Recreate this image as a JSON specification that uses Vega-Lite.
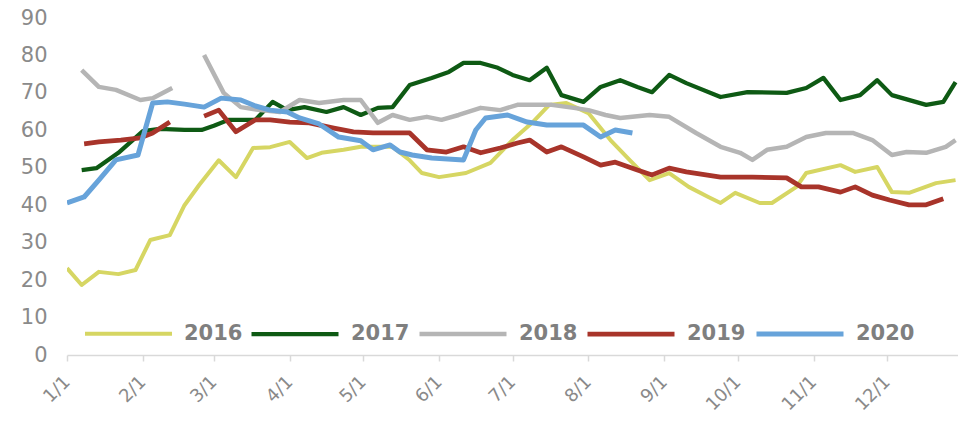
{
  "$schema": "https://vega.github.io/schema/vega-lite/v6.json",
  "width": 891,
  "height": 337,
  "autosize": {"type": "none"},
  "padding": {"left": 67, "top": 18, "right": 0, "bottom": 66},
  "background": "white",
  "config": {"view": {"stroke": null}, "font": "DejaVu Sans"},
  "data": {"values": [
    {"year":"2016","seg":"2016","date":"2016-01-01","value":23.2},
    {"year":"2016","seg":"2016","date":"2016-01-07","value":18.7},
    {"year":"2016","seg":"2016","date":"2016-01-14","value":22.2},
    {"year":"2016","seg":"2016","date":"2016-01-22","value":21.6},
    {"year":"2016","seg":"2016","date":"2016-01-29","value":22.7},
    {"year":"2016","seg":"2016","date":"2016-02-04","value":30.7},
    {"year":"2016","seg":"2016","date":"2016-02-12","value":32},
    {"year":"2016","seg":"2016","date":"2016-02-18","value":40},
    {"year":"2016","seg":"2016","date":"2016-02-24","value":45.4},
    {"year":"2016","seg":"2016","date":"2016-03-03","value":52},
    {"year":"2016","seg":"2016","date":"2016-03-10","value":47.5},
    {"year":"2016","seg":"2016","date":"2016-03-17","value":55.3},
    {"year":"2016","seg":"2016","date":"2016-03-24","value":55.5},
    {"year":"2016","seg":"2016","date":"2016-04-01","value":56.9},
    {"year":"2016","seg":"2016","date":"2016-04-08","value":52.6},
    {"year":"2016","seg":"2016","date":"2016-04-14","value":54},
    {"year":"2016","seg":"2016","date":"2016-04-23","value":54.8},
    {"year":"2016","seg":"2016","date":"2016-04-30","value":55.6},
    {"year":"2016","seg":"2016","date":"2016-05-08","value":55.6},
    {"year":"2016","seg":"2016","date":"2016-05-13","value":55.6},
    {"year":"2016","seg":"2016","date":"2016-05-20","value":52},
    {"year":"2016","seg":"2016","date":"2016-05-25","value":48.6},
    {"year":"2016","seg":"2016","date":"2016-06-01","value":47.5},
    {"year":"2016","seg":"2016","date":"2016-06-12","value":48.6},
    {"year":"2016","seg":"2016","date":"2016-06-22","value":51.3},
    {"year":"2016","seg":"2016","date":"2016-07-01","value":57.4},
    {"year":"2016","seg":"2016","date":"2016-07-09","value":62},
    {"year":"2016","seg":"2016","date":"2016-07-16","value":66.8},
    {"year":"2016","seg":"2016","date":"2016-07-23","value":67.3},
    {"year":"2016","seg":"2016","date":"2016-08-01","value":64.6},
    {"year":"2016","seg":"2016","date":"2016-08-10","value":57.4},
    {"year":"2016","seg":"2016","date":"2016-08-18","value":52},
    {"year":"2016","seg":"2016","date":"2016-08-26","value":46.7},
    {"year":"2016","seg":"2016","date":"2016-09-03","value":48.6},
    {"year":"2016","seg":"2016","date":"2016-09-11","value":44.9},
    {"year":"2016","seg":"2016","date":"2016-09-19","value":42.2},
    {"year":"2016","seg":"2016","date":"2016-09-24","value":40.6},
    {"year":"2016","seg":"2016","date":"2016-09-30","value":43.3},
    {"year":"2016","seg":"2016","date":"2016-10-10","value":40.6},
    {"year":"2016","seg":"2016","date":"2016-10-15","value":40.6},
    {"year":"2016","seg":"2016","date":"2016-10-25","value":44.9},
    {"year":"2016","seg":"2016","date":"2016-10-29","value":48.6},
    {"year":"2016","seg":"2016","date":"2016-11-12","value":50.7},
    {"year":"2016","seg":"2016","date":"2016-11-18","value":48.9},
    {"year":"2016","seg":"2016","date":"2016-11-27","value":50.2},
    {"year":"2016","seg":"2016","date":"2016-12-03","value":43.5},
    {"year":"2016","seg":"2016","date":"2016-12-10","value":43.3},
    {"year":"2016","seg":"2016","date":"2016-12-21","value":45.9},
    {"year":"2016","seg":"2016","date":"2016-12-29","value":46.7},

    {"year":"2017","seg":"2017","date":"2016-01-07","value":49.4},
    {"year":"2017","seg":"2017","date":"2016-01-13","value":49.9},
    {"year":"2017","seg":"2017","date":"2016-01-22","value":54},
    {"year":"2017","seg":"2017","date":"2016-02-01","value":59.8},
    {"year":"2017","seg":"2017","date":"2016-02-08","value":60.4},
    {"year":"2017","seg":"2017","date":"2016-02-18","value":60.1},
    {"year":"2017","seg":"2017","date":"2016-02-25","value":60.1},
    {"year":"2017","seg":"2017","date":"2016-03-01","value":61.2},
    {"year":"2017","seg":"2017","date":"2016-03-07","value":62.8},
    {"year":"2017","seg":"2017","date":"2016-03-18","value":62.8},
    {"year":"2017","seg":"2017","date":"2016-03-25","value":67.6},
    {"year":"2017","seg":"2017","date":"2016-03-31","value":65.4},
    {"year":"2017","seg":"2017","date":"2016-04-07","value":66.2},
    {"year":"2017","seg":"2017","date":"2016-04-16","value":64.9},
    {"year":"2017","seg":"2017","date":"2016-04-23","value":66.2},
    {"year":"2017","seg":"2017","date":"2016-04-30","value":64.1},
    {"year":"2017","seg":"2017","date":"2016-05-07","value":66},
    {"year":"2017","seg":"2017","date":"2016-05-13","value":66.2},
    {"year":"2017","seg":"2017","date":"2016-05-20","value":72.1},
    {"year":"2017","seg":"2017","date":"2016-05-29","value":74},
    {"year":"2017","seg":"2017","date":"2016-06-05","value":75.6},
    {"year":"2017","seg":"2017","date":"2016-06-11","value":78},
    {"year":"2017","seg":"2017","date":"2016-06-18","value":78},
    {"year":"2017","seg":"2017","date":"2016-06-25","value":76.7},
    {"year":"2017","seg":"2017","date":"2016-07-01","value":74.8},
    {"year":"2017","seg":"2017","date":"2016-07-08","value":73.4},
    {"year":"2017","seg":"2017","date":"2016-07-15","value":76.7},
    {"year":"2017","seg":"2017","date":"2016-07-21","value":69.4},
    {"year":"2017","seg":"2017","date":"2016-07-30","value":67.6},
    {"year":"2017","seg":"2017","date":"2016-08-06","value":71.6},
    {"year":"2017","seg":"2017","date":"2016-08-14","value":73.4},
    {"year":"2017","seg":"2017","date":"2016-08-21","value":71.6},
    {"year":"2017","seg":"2017","date":"2016-08-27","value":70.2},
    {"year":"2017","seg":"2017","date":"2016-09-03","value":74.8},
    {"year":"2017","seg":"2017","date":"2016-09-10","value":72.6},
    {"year":"2017","seg":"2017","date":"2016-09-24","value":68.9},
    {"year":"2017","seg":"2017","date":"2016-10-05","value":70.2},
    {"year":"2017","seg":"2017","date":"2016-10-21","value":70},
    {"year":"2017","seg":"2017","date":"2016-10-29","value":71.3},
    {"year":"2017","seg":"2017","date":"2016-11-05","value":74},
    {"year":"2017","seg":"2017","date":"2016-11-12","value":68.1},
    {"year":"2017","seg":"2017","date":"2016-11-20","value":69.4},
    {"year":"2017","seg":"2017","date":"2016-11-27","value":73.4},
    {"year":"2017","seg":"2017","date":"2016-12-03","value":69.4},
    {"year":"2017","seg":"2017","date":"2016-12-17","value":66.8},
    {"year":"2017","seg":"2017","date":"2016-12-24","value":67.6},
    {"year":"2017","seg":"2017","date":"2016-12-29","value":72.9},

    {"year":"2018","seg":"2018a","date":"2016-01-07","value":76.1},
    {"year":"2018","seg":"2018a","date":"2016-01-14","value":71.6},
    {"year":"2018","seg":"2018a","date":"2016-01-21","value":70.8},
    {"year":"2018","seg":"2018a","date":"2016-01-31","value":68.1},
    {"year":"2018","seg":"2018a","date":"2016-02-05","value":68.6},
    {"year":"2018","seg":"2018a","date":"2016-02-13","value":71.3},
    {"year":"2018","seg":"2018b","date":"2016-02-26","value":80.1},
    {"year":"2018","seg":"2018b","date":"2016-03-05","value":70},
    {"year":"2018","seg":"2018b","date":"2016-03-12","value":66.2},
    {"year":"2018","seg":"2018b","date":"2016-03-20","value":65.4},
    {"year":"2018","seg":"2018b","date":"2016-03-28","value":64.9},
    {"year":"2018","seg":"2018b","date":"2016-04-05","value":68.1},
    {"year":"2018","seg":"2018b","date":"2016-04-13","value":67.3},
    {"year":"2018","seg":"2018b","date":"2016-04-23","value":68.1},
    {"year":"2018","seg":"2018b","date":"2016-04-30","value":68.1},
    {"year":"2018","seg":"2018b","date":"2016-05-07","value":62},
    {"year":"2018","seg":"2018b","date":"2016-05-13","value":64.1},
    {"year":"2018","seg":"2018b","date":"2016-05-20","value":62.8},
    {"year":"2018","seg":"2018b","date":"2016-05-27","value":63.6},
    {"year":"2018","seg":"2018b","date":"2016-06-02","value":62.8},
    {"year":"2018","seg":"2018b","date":"2016-06-09","value":64.1},
    {"year":"2018","seg":"2018b","date":"2016-06-18","value":66},
    {"year":"2018","seg":"2018b","date":"2016-06-26","value":65.4},
    {"year":"2018","seg":"2018b","date":"2016-07-03","value":66.8},
    {"year":"2018","seg":"2018b","date":"2016-07-09","value":66.8},
    {"year":"2018","seg":"2018b","date":"2016-07-17","value":66.8},
    {"year":"2018","seg":"2018b","date":"2016-07-26","value":66},
    {"year":"2018","seg":"2018b","date":"2016-08-01","value":65.4},
    {"year":"2018","seg":"2018b","date":"2016-08-08","value":64.1},
    {"year":"2018","seg":"2018b","date":"2016-08-14","value":63.3},
    {"year":"2018","seg":"2018b","date":"2016-08-26","value":64.1},
    {"year":"2018","seg":"2018b","date":"2016-09-03","value":63.6},
    {"year":"2018","seg":"2018b","date":"2016-09-14","value":59.3},
    {"year":"2018","seg":"2018b","date":"2016-09-24","value":55.6},
    {"year":"2018","seg":"2018b","date":"2016-10-02","value":54},
    {"year":"2018","seg":"2018b","date":"2016-10-07","value":52.1},
    {"year":"2018","seg":"2018b","date":"2016-10-13","value":54.8},
    {"year":"2018","seg":"2018b","date":"2016-10-21","value":55.6},
    {"year":"2018","seg":"2018b","date":"2016-10-29","value":58.2},
    {"year":"2018","seg":"2018b","date":"2016-11-06","value":59.3},
    {"year":"2018","seg":"2018b","date":"2016-11-17","value":59.3},
    {"year":"2018","seg":"2018b","date":"2016-11-25","value":57.4},
    {"year":"2018","seg":"2018b","date":"2016-12-03","value":53.4},
    {"year":"2018","seg":"2018b","date":"2016-12-09","value":54.2},
    {"year":"2018","seg":"2018b","date":"2016-12-17","value":54},
    {"year":"2018","seg":"2018b","date":"2016-12-25","value":55.6},
    {"year":"2018","seg":"2018b","date":"2016-12-29","value":57.4},

    {"year":"2019","seg":"2019a","date":"2016-01-08","value":56.4},
    {"year":"2019","seg":"2019a","date":"2016-01-14","value":56.9},
    {"year":"2019","seg":"2019a","date":"2016-01-23","value":57.4},
    {"year":"2019","seg":"2019a","date":"2016-01-31","value":58},
    {"year":"2019","seg":"2019a","date":"2016-02-05","value":59.3},
    {"year":"2019","seg":"2019a","date":"2016-02-12","value":62.2},
    {"year":"2019","seg":"2019b","date":"2016-02-26","value":63.8},
    {"year":"2019","seg":"2019b","date":"2016-03-03","value":65.4},
    {"year":"2019","seg":"2019b","date":"2016-03-10","value":59.6},
    {"year":"2019","seg":"2019b","date":"2016-03-18","value":62.8},
    {"year":"2019","seg":"2019b","date":"2016-03-24","value":62.8},
    {"year":"2019","seg":"2019b","date":"2016-04-01","value":62.2},
    {"year":"2019","seg":"2019b","date":"2016-04-09","value":62},
    {"year":"2019","seg":"2019b","date":"2016-04-19","value":60.6},
    {"year":"2019","seg":"2019b","date":"2016-04-27","value":59.6},
    {"year":"2019","seg":"2019b","date":"2016-05-05","value":59.3},
    {"year":"2019","seg":"2019b","date":"2016-05-20","value":59.3},
    {"year":"2019","seg":"2019b","date":"2016-05-27","value":54.8},
    {"year":"2019","seg":"2019b","date":"2016-06-04","value":54.2},
    {"year":"2019","seg":"2019b","date":"2016-06-11","value":55.6},
    {"year":"2019","seg":"2019b","date":"2016-06-18","value":54},
    {"year":"2019","seg":"2019b","date":"2016-06-26","value":55.3},
    {"year":"2019","seg":"2019b","date":"2016-07-03","value":56.6},
    {"year":"2019","seg":"2019b","date":"2016-07-08","value":57.4},
    {"year":"2019","seg":"2019b","date":"2016-07-15","value":54.2},
    {"year":"2019","seg":"2019b","date":"2016-07-21","value":55.6},
    {"year":"2019","seg":"2019b","date":"2016-07-30","value":52.9},
    {"year":"2019","seg":"2019b","date":"2016-08-06","value":50.7},
    {"year":"2019","seg":"2019b","date":"2016-08-12","value":51.5},
    {"year":"2019","seg":"2019b","date":"2016-08-21","value":49.4},
    {"year":"2019","seg":"2019b","date":"2016-08-27","value":48.1},
    {"year":"2019","seg":"2019b","date":"2016-09-03","value":49.9},
    {"year":"2019","seg":"2019b","date":"2016-09-10","value":48.9},
    {"year":"2019","seg":"2019b","date":"2016-09-24","value":47.5},
    {"year":"2019","seg":"2019b","date":"2016-10-07","value":47.5},
    {"year":"2019","seg":"2019b","date":"2016-10-21","value":47.3},
    {"year":"2019","seg":"2019b","date":"2016-10-27","value":44.9},
    {"year":"2019","seg":"2019b","date":"2016-11-03","value":44.9},
    {"year":"2019","seg":"2019b","date":"2016-11-12","value":43.5},
    {"year":"2019","seg":"2019b","date":"2016-11-18","value":44.9},
    {"year":"2019","seg":"2019b","date":"2016-11-25","value":42.7},
    {"year":"2019","seg":"2019b","date":"2016-12-02","value":41.4},
    {"year":"2019","seg":"2019b","date":"2016-12-10","value":40.1},
    {"year":"2019","seg":"2019b","date":"2016-12-17","value":40.1},
    {"year":"2019","seg":"2019b","date":"2016-12-24","value":41.7},

    {"year":"2020","seg":"2020","date":"2016-01-01","value":40.6},
    {"year":"2020","seg":"2020","date":"2016-01-08","value":42.2},
    {"year":"2020","seg":"2020","date":"2016-01-14","value":46.7},
    {"year":"2020","seg":"2020","date":"2016-01-21","value":52.1},
    {"year":"2020","seg":"2020","date":"2016-01-30","value":53.4},
    {"year":"2020","seg":"2020","date":"2016-02-05","value":67.3},
    {"year":"2020","seg":"2020","date":"2016-02-11","value":67.6},
    {"year":"2020","seg":"2020","date":"2016-02-18","value":67},
    {"year":"2020","seg":"2020","date":"2016-02-26","value":66.2},
    {"year":"2020","seg":"2020","date":"2016-03-04","value":68.6},
    {"year":"2020","seg":"2020","date":"2016-03-12","value":68.1},
    {"year":"2020","seg":"2020","date":"2016-03-18","value":66.5},
    {"year":"2020","seg":"2020","date":"2016-03-24","value":65.4},
    {"year":"2020","seg":"2020","date":"2016-03-31","value":64.9},
    {"year":"2020","seg":"2020","date":"2016-04-05","value":63.3},
    {"year":"2020","seg":"2020","date":"2016-04-13","value":61.7},
    {"year":"2020","seg":"2020","date":"2016-04-21","value":58.2},
    {"year":"2020","seg":"2020","date":"2016-04-30","value":57.2},
    {"year":"2020","seg":"2020","date":"2016-05-05","value":54.8},
    {"year":"2020","seg":"2020","date":"2016-05-12","value":56.1},
    {"year":"2020","seg":"2020","date":"2016-05-16","value":54.2},
    {"year":"2020","seg":"2020","date":"2016-05-21","value":53.4},
    {"year":"2020","seg":"2020","date":"2016-05-29","value":52.6},
    {"year":"2020","seg":"2020","date":"2016-06-11","value":52.1},
    {"year":"2020","seg":"2020","date":"2016-06-16","value":60.1},
    {"year":"2020","seg":"2020","date":"2016-06-20","value":63.3},
    {"year":"2020","seg":"2020","date":"2016-06-29","value":64.1},
    {"year":"2020","seg":"2020","date":"2016-07-07","value":62.2},
    {"year":"2020","seg":"2020","date":"2016-07-15","value":61.4},
    {"year":"2020","seg":"2020","date":"2016-07-23","value":61.4},
    {"year":"2020","seg":"2020","date":"2016-07-30","value":61.4},
    {"year":"2020","seg":"2020","date":"2016-08-06","value":58.2},
    {"year":"2020","seg":"2020","date":"2016-08-12","value":60.1},
    {"year":"2020","seg":"2020","date":"2016-08-19","value":59.3}
  ]},
  "mark": {"type": "line", "strokeJoin": "round", "strokeCap": "butt", "clip": true},
  "encoding": {
    "x": {
      "field": "date", "type": "temporal",
      "scale": {"type": "utc", "domain": [{"year": 2016, "month": 1, "date": 1, "utc": true}, {"year": 2016, "month": 12, "date": 30, "utc": true}]},
      "axis": {
        "title": null,
        "grid": false,
        "values": [
          {"year": 2016, "month": 1, "date": 1, "utc": true},
          {"year": 2016, "month": 2, "date": 1, "utc": true},
          {"year": 2016, "month": 3, "date": 1, "utc": true},
          {"year": 2016, "month": 4, "date": 1, "utc": true},
          {"year": 2016, "month": 5, "date": 1, "utc": true},
          {"year": 2016, "month": 6, "date": 1, "utc": true},
          {"year": 2016, "month": 7, "date": 1, "utc": true},
          {"year": 2016, "month": 8, "date": 1, "utc": true},
          {"year": 2016, "month": 9, "date": 1, "utc": true},
          {"year": 2016, "month": 10, "date": 1, "utc": true},
          {"year": 2016, "month": 11, "date": 1, "utc": true},
          {"year": 2016, "month": 12, "date": 1, "utc": true}
        ],
        "labelExpr": "utcFormat(datum.value, '%-m/%-d')",
        "labelAngle": -45,
        "labelAlign": "right",
        "labelBaseline": "middle",
        "labelPadding": 18,
        "labelFontSize": 18,
        "labelColor": "#8a8a8a",
        "labelFont": "DejaVu Sans",
        "domainColor": "#d9d9d9",
        "domainWidth": 1.5,
        "tickColor": "#d9d9d9",
        "tickSize": 6,
        "tickWidth": 1.5,
        "labelOverlap": false,
        "labelBound": false,
        "labelFlush": false
      }
    },
    "y": {
      "field": "value", "type": "quantitative",
      "scale": {"domain": [0, 90], "nice": false, "zero": true},
      "axis": {
        "title": null,
        "grid": false,
        "domain": false,
        "ticks": false,
        "values": [0, 10, 20, 30, 40, 50, 60, 70, 80, 90],
        "labelFontSize": 21,
        "labelColor": "#8a8a8a",
        "labelFont": "DejaVu Sans",
        "labelPadding": 20,
        "labelFlush": false,
        "labelBound": false
      }
    },
    "color": {
      "field": "year", "type": "nominal",
      "scale": {"domain": ["2016", "2017", "2018", "2019", "2020"], "range": ["#d6d663", "#0e5a14", "#b5b5b5", "#a8342a", "#67a3da"]},
      "legend": {
        "title": null,
        "orient": "none",
        "direction": "horizontal",
        "legendX": 16,
        "legendY": 270,
        "symbolType": "stroke",
        "symbolSize": 7569,
        "symbolStrokeWidth": 4,
        "labelFontSize": 21,
        "labelFontWeight": "bold",
        "labelColor": "#7f7f7f",
        "labelFont": "DejaVu Sans",
        "labelOffset": 10,
        "columnPadding": 0,
        "encode": {"symbols": {"update": {"strokeWidth": {"signal": "datum.value == '2017' ? 5 : datum.value == '2016' ? 4 : datum.value == '2018' ? 3.5 : 3"}}}}
      }
    },
    "strokeWidth": {
      "field": "year", "type": "ordinal",
      "scale": {"domain": ["2016", "2017", "2018", "2019", "2020"], "range": [4, 5, 3.5, 2.6, 2.2]},
      "legend": null
    },
    "detail": {"field": "seg", "type": "nominal"}
  }
}
